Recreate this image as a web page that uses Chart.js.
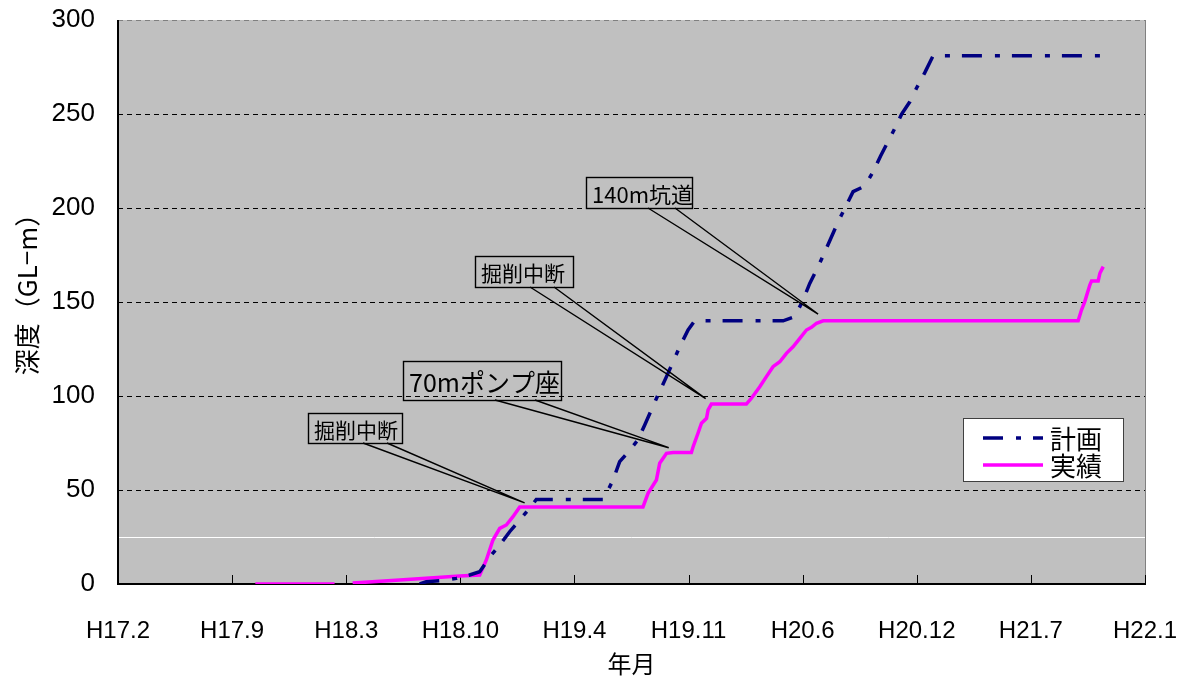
<!DOCTYPE html>
<html>
<head>
<meta charset="utf-8">
<script src="https://cdn.jsdelivr.net/npm/chart.js@4/dist/chart.umd.min.js"></script>
<style>
  html, body { margin: 0; padding: 0; background: #fff; }
  #wrap { width: 1181px; height: 681px; }
</style>
</head>
<body>
<div id="wrap"><canvas id="c" width="1181" height="681"></canvas></div>
<script>
// x values are months elapsed since H17.2; the axis runs H17.2 → H22.1 (59 months)
const X_TICK_LABELS = ['H17.2', 'H17.9', 'H18.3', 'H18.10', 'H19.4', 'H19.11', 'H20.6', 'H20.12', 'H21.7', 'H22.1'];
const X_SPAN_MONTHS = 59;
const Y_MAX = 300;
const Y_STEP = 50;

// 計画 (planned depth, GL-m)
const planMonths = [17.33, 17.71, 18.48, 19.44, 20.20, 20.78, 21.45, 21.93, 22.50, 23.07, 23.65, 24.03,
  27.86, 28.06, 28.44, 28.82, 29.30, 29.87, 30.26, 30.64, 31.02, 31.51, 31.89, 32.27, 32.75, 33.13,
  38.21, 38.88, 39.36, 39.74, 40.22, 40.70, 41.37, 41.85, 42.23, 42.91, 43.38, 43.81, 44.63, 45.01,
  45.49, 45.87, 46.35, 46.83, 56.60];
const planDepth = [0, 1.2, 1.8, 3.0, 4.8, 6.5, 15.4, 20.7, 27.8, 34.0, 40.3, 45,
  45, 48.2, 55.3, 65.1, 70.1, 76.6, 84.6, 92.6, 100.5, 110.3, 118.2, 126.2, 135.1, 140,
  140, 142.2, 151.1, 159.9, 168.8, 178.6, 192.7, 201.6, 208.7, 211.7, 219.3, 227.7, 242.4, 249.8,
  256.5, 263.7, 272.0, 281, 281];

// 実績 (actual depth, GL-m); null marks a break in the record
const actualMonths = [7.89, 12.44, 12.96, 13.48, 16.18, 17.90, 19.63, 20.78, 21.16, 21.54, 21.93, 22.31,
  22.69, 23.08, 30.16, 30.45, 30.93, 31.12, 31.51, 31.89, 32.94, 33.04, 33.32, 33.52, 33.81, 33.90,
  34.09, 36.10, 36.39, 36.87, 37.25, 37.63, 38.02, 38.40, 38.78, 39.17, 39.55, 39.84, 40.13, 40.51,
  55.16, 55.35, 55.54, 55.83, 55.93, 56.31, 56.41, 56.60];
const actualDepth = [0, 0, null, 0.5, 2.1, 3.2, 4.3, 4.8, 12.8, 23.4, 29.6, 31.4,
  35.8, 41, 41, 48.2, 55.3, 64.2, 69.5, 70, 70, 73, 80.2, 85.5, 88.1, 92.6,
  95.7, 95.7, 98.8, 104.9, 110.3, 115.6, 118.2, 122.7, 126.2, 130.7, 135.1, 136.5, 138.7, 140,
  140, 145.7, 150.2, 159, 161.2, 161.2, 165.3, 168.8];

const PLAN_COLOR = '#000080';
const ACTUAL_COLOR = '#ff00ff';
const PLAN_DASH = [20, 13, 5, 12];

// Callout boxes: box in canvas pixels, pointer tip in data units
const CALLOUTS = [
  { text: '140m坑道', size: 22, box: [586, 177, 106, 31], base: [648, 675], tip: { x: 40.22, y: 143.6 } },
  { text: '掘削中断', size: 21, box: [475, 256, 98, 31], base: [530, 554], tip: { x: 33.76, y: 98.6 } },
  { text: '70mポンプ座', size: 25, box: [403, 361, 158, 39], base: [495, 535], tip: { x: 31.64, y: 72.5 } },
  { text: '掘削中断', size: 21, box: [308, 413, 94, 30], base: [363, 387], tip: { x: 23.36, y: 43.2 } }
];

const JP_FONT = '"Noto Sans CJK JP", "Noto Sans", sans-serif';
const NUM_FONT = '"Liberation Sans", Arial, sans-serif';

const hline = (ctx, x1, x2, y) => { ctx.beginPath(); ctx.moveTo(x1, y); ctx.lineTo(x2, y); ctx.stroke(); };
const noEdgePadding = scale => {
  scale.paddingLeft = 0; scale.paddingRight = 0; scale.paddingTop = 0; scale.paddingBottom = 0;
};

const plotFrame = {
  id: 'plotFrame',
  beforeDraw(chart) {
    const { ctx, chartArea: a } = chart;
    ctx.save();
    ctx.fillStyle = '#fff';
    ctx.fillRect(0, 0, chart.width, chart.height);
    ctx.fillStyle = '#c0c0c0';
    ctx.fillRect(a.left, a.top, a.right - a.left, a.bottom - a.top);
    ctx.restore();
  },
  beforeDatasetsDraw(chart) {
    const { ctx, chartArea: a, scales: { x, y } } = chart;
    ctx.save();
    ctx.lineWidth = 1;
    // horizontal dashed grid
    ctx.strokeStyle = '#000';
    ctx.setLineDash([5, 4]);
    for (let v = Y_STEP; v < Y_MAX; v += Y_STEP) {
      hline(ctx, a.left, a.right, Math.round(y.getPixelForValue(v)) + 0.5);
    }
    ctx.strokeStyle = '#808080';
    hline(ctx, a.left, a.right, Math.round(y.getPixelForValue(Y_MAX)) + 0.5);
    ctx.setLineDash([]);
    // white reference line
    ctx.strokeStyle = '#fff';
    hline(ctx, a.left, a.right, Math.round(y.getPixelForValue(25)) + 0.5);
    // right border
    ctx.strokeStyle = '#808080';
    ctx.beginPath(); ctx.moveTo(a.right + 0.5, a.top); ctx.lineTo(a.right + 0.5, a.bottom); ctx.stroke();
    // axes
    ctx.strokeStyle = '#000';
    ctx.lineWidth = 2;
    ctx.beginPath(); ctx.moveTo(a.left, a.top); ctx.lineTo(a.left, a.bottom + 1); ctx.stroke();
    hline(ctx, a.left - 1, a.right + 1, a.bottom);
    // inner tick marks on the time axis
    ctx.lineWidth = 1;
    x.ticks.forEach(t => {
      const px = Math.round(x.getPixelForValue(t.value)) + 0.5;
      ctx.beginPath(); ctx.moveTo(px, a.bottom - 9); ctx.lineTo(px, a.bottom); ctx.stroke();
    });
    ctx.restore();
  },
  afterDatasetsDraw(chart) {
    const { ctx, scales: { x, y } } = chart;
    ctx.save();
    // callouts
    CALLOUTS.forEach(c => {
      const [bx, by, bw, bh] = c.box;
      const tx = x.getPixelForValue(c.tip.x), ty = y.getPixelForValue(c.tip.y);
      ctx.strokeStyle = '#000';
      ctx.lineWidth = 1.4;
      ctx.beginPath();
      ctx.moveTo(c.base[0], by + bh); ctx.lineTo(tx, ty); ctx.lineTo(c.base[1], by + bh);
      ctx.stroke();
      ctx.strokeRect(bx + 0.5, by + 0.5, bw, bh);
      ctx.fillStyle = '#000';
      ctx.font = `${c.size}px ${JP_FONT}`;
      ctx.textAlign = 'left';
      ctx.textBaseline = 'middle';
      ctx.fillText(c.text, bx + 6, by + bh / 2 + 2);
    });
    // legend
    const L = { x: 963, y: 418, w: 160, h: 63 };
    ctx.fillStyle = '#fff';
    ctx.fillRect(L.x, L.y, L.w, L.h);
    ctx.strokeStyle = '#404040';
    ctx.lineWidth = 1;
    ctx.strokeRect(L.x + 0.5, L.y + 0.5, L.w, L.h);
    chart.data.datasets.forEach((ds, i) => {
      const ly = L.y + 20 + i * 27;
      ctx.strokeStyle = ds.borderColor;
      ctx.lineWidth = 3.5;
      ctx.setLineDash(ds.borderDash || []);
      hline(ctx, 983, 1043, ly);
      ctx.setLineDash([]);
      ctx.fillStyle = '#000';
      ctx.font = `26px ${JP_FONT}`;
      ctx.textAlign = 'left';
      ctx.textBaseline = 'middle';
      ctx.fillText(ds.label, 1050, ly + 1);
    });
    ctx.restore();
  },
  afterDraw(chart) {
    const { ctx, chartArea: a } = chart;
    ctx.save();
    ctx.fillStyle = '#000';
    ctx.textAlign = 'center';
    ctx.textBaseline = 'middle';
    ctx.font = `24px ${JP_FONT}`;
    ctx.fillText('年月', (a.left + a.right) / 2, 664);
    ctx.translate(27, 288);
    ctx.rotate(-Math.PI / 2);
    ctx.font = `26px ${JP_FONT}`;
    ctx.fillText('深度（GL−m）', 0, 0);
    ctx.restore();
  }
};

new Chart(document.getElementById('c'), {
  type: 'line',
  data: {
    datasets: [
      {
        label: '計画',
        data: planMonths.map((m, i) => ({ x: m, y: planDepth[i] })),
        borderColor: PLAN_COLOR,
        borderWidth: 3.5,
        borderDash: PLAN_DASH,
        pointRadius: 0,
        tension: 0,
        fill: false
      },
      {
        label: '実績',
        data: actualMonths.map((m, i) => ({ x: m, y: actualDepth[i] })),
        borderColor: ACTUAL_COLOR,
        borderWidth: 3.5,
        pointRadius: 0,
        tension: 0,
        spanGaps: false,
        fill: false
      }
    ]
  },
  options: {
    responsive: false,
    animation: false,
    devicePixelRatio: 1,
    layout: { padding: { top: 20, right: 36, left: 0, bottom: 0 } },
    plugins: { legend: { display: false }, tooltip: { enabled: false } },
    scales: {
      x: {
        type: 'linear',
        min: 0,
        max: X_SPAN_MONTHS,
        afterBuildTicks(scale) {
          scale.ticks = X_TICK_LABELS.map((_, i) => ({ value: i * X_SPAN_MONTHS / (X_TICK_LABELS.length - 1) }));
        },
        afterFit(scale) { scale.height = 97; noEdgePadding(scale); },
        grid: { display: false, drawTicks: false },
        border: { display: false },
        ticks: {
          autoSkip: false,
          maxRotation: 0,
          padding: 33,
          color: '#000',
          font: { family: NUM_FONT, size: 24 },
          callback: (v, i) => X_TICK_LABELS[i]
        }
      },
      y: {
        type: 'linear',
        min: 0,
        max: Y_MAX,
        afterFit(scale) { scale.width = 118; noEdgePadding(scale); },
        grid: { display: false, drawTicks: false },
        border: { display: false },
        ticks: {
          stepSize: Y_STEP,
          padding: 23,
          color: '#000',
          font: { family: NUM_FONT, size: 26 }
        }
      }
    }
  },
  plugins: [plotFrame]
});
</script>
</body>
</html>
